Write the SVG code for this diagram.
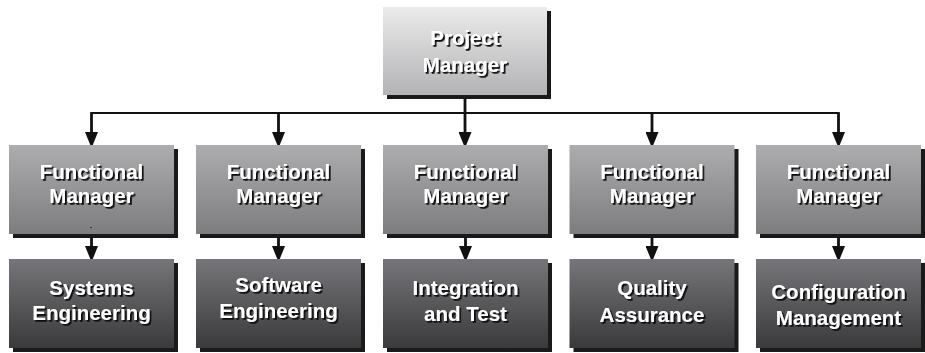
<svg xmlns="http://www.w3.org/2000/svg" width="925" height="353" viewBox="0 0 925 353">
  <defs>
    <linearGradient id="gTop" x1="0" y1="0" x2="0" y2="1">
      <stop offset="0" stop-color="#ebebec"/>
      <stop offset="1" stop-color="#b3b3b5"/>
    </linearGradient>
    <linearGradient id="gMid" x1="0" y1="0" x2="0" y2="1">
      <stop offset="0" stop-color="#adadaf"/>
      <stop offset="1" stop-color="#7d7d7f"/>
    </linearGradient>
    <linearGradient id="gLow" x1="0" y1="0" x2="0" y2="1">
      <stop offset="0" stop-color="#76767a"/>
      <stop offset="1" stop-color="#3a3a3c"/>
    </linearGradient>
    <filter id="txtShadow" x="-10%" y="-20%" width="130%" height="150%">
      <feDropShadow dx="1.8" dy="1.8" stdDeviation="0.5" flood-color="#111111" flood-opacity="1"/>
    </filter>
    <marker id="arrow" viewBox="0 0 16 13" refX="0" refY="6.5" markerWidth="16" markerHeight="13" markerUnits="userSpaceOnUse" orient="auto">
      <path d="M0,0 L16,6.5 L0,13 z" fill="#111111"/>
    </marker>
  </defs>
  <style>
    .shadow { fill: #1a1a1a; }
    .top { fill: url(#gTop); }
    .mid { fill: url(#gMid); }
    .low { fill: url(#gLow); }
    .label { font-family: "Liberation Sans", Arial, sans-serif; font-weight: bold; font-size: 20.5px; fill: #ffffff; text-anchor: middle; filter: url(#txtShadow); }
    .wire { stroke: #111111; fill: none; }
    .bus { stroke-width: 1.8; }
    .drop { stroke-width: 2.8; marker-end: url(#arrow); }
  </style>

  <rect width="925" height="353" fill="#ffffff"/>

  <!-- connectors -->
  <g id="connectors">
    <line class="wire bus" x1="91.5" y1="113" x2="838.5" y2="113"/>
    <line class="wire" x1="465" y1="99" x2="465" y2="113" stroke-width="2.8"/>
    <line class="wire drop" x1="465" y1="113" x2="465" y2="132"/>
    <line class="wire drop" x1="91.5" y1="112.1" x2="91.5" y2="132"/>
    <line class="wire drop" x1="278.5" y1="113" x2="278.5" y2="132"/>
    <line class="wire drop" x1="652" y1="113" x2="652" y2="132"/>
    <line class="wire drop" x1="838.5" y1="112.1" x2="838.5" y2="132"/>
    <line class="wire drop" x1="91.5" y1="238" x2="91.5" y2="246"/>
    <line class="wire drop" x1="278.5" y1="238" x2="278.5" y2="246"/>
    <line class="wire drop" x1="465.5" y1="238" x2="465.5" y2="246"/>
    <line class="wire drop" x1="652" y1="238" x2="652" y2="246"/>
    <line class="wire drop" x1="838.5" y1="238" x2="838.5" y2="246"/>
  </g>

  <!-- top -->
  <g id="project-manager">
    <rect class="shadow" x="387" y="11" width="164" height="88"/>
    <rect class="top" x="383" y="7" width="164" height="88"/>
    <text class="label" x="465" y="45">Project</text>
    <text class="label" x="465" y="72">Manager</text>
  </g>

  <!-- functional managers -->
  <g id="fm-1">
    <rect class="shadow" x="13" y="149" width="165" height="89"/>
    <rect class="mid" x="9" y="145" width="165" height="89"/>
    <text class="label" x="91.5" y="179">Functional</text>
    <text class="label" x="91.5" y="203">Manager</text>
    <rect x="90" y="227" width="2" height="1.2" fill="#3a3a3a"/>
  </g>
  <g id="fm-2">
    <rect class="shadow" x="200" y="149" width="165" height="89"/>
    <rect class="mid" x="196" y="145" width="165" height="89"/>
    <text class="label" x="278.5" y="179">Functional</text>
    <text class="label" x="278.5" y="203">Manager</text>
  </g>
  <g id="fm-3">
    <rect class="shadow" x="387" y="149" width="165" height="89"/>
    <rect class="mid" x="383" y="145" width="165" height="89"/>
    <text class="label" x="465.5" y="179">Functional</text>
    <text class="label" x="465.5" y="203">Manager</text>
  </g>
  <g id="fm-4">
    <rect class="shadow" x="573.5" y="149" width="165" height="89"/>
    <rect class="mid" x="569.5" y="145" width="165" height="89"/>
    <text class="label" x="652" y="179">Functional</text>
    <text class="label" x="652" y="203">Manager</text>
  </g>
  <g id="fm-5">
    <rect class="shadow" x="760" y="149" width="165" height="89"/>
    <rect class="mid" x="756" y="145" width="165" height="89"/>
    <text class="label" x="838.5" y="179">Functional</text>
    <text class="label" x="838.5" y="203">Manager</text>
  </g>

  <!-- disciplines -->
  <g id="systems-engineering">
    <rect class="shadow" x="13" y="263" width="165" height="89"/>
    <rect class="low" x="9" y="259" width="165" height="89"/>
    <text class="label" x="91.5" y="295">Systems</text>
    <text class="label" x="91.5" y="320">Engineering</text>
  </g>
  <g id="software-engineering">
    <rect class="shadow" x="200" y="263" width="165" height="89"/>
    <rect class="low" x="196" y="259" width="165" height="89"/>
    <text class="label" x="278.5" y="292">Software</text>
    <text class="label" x="278.5" y="318">Engineering</text>
  </g>
  <g id="integration-test">
    <rect class="shadow" x="387" y="263" width="165" height="89"/>
    <rect class="low" x="383" y="259" width="165" height="89"/>
    <text class="label" x="465.5" y="295">Integration</text>
    <text class="label" x="465.5" y="321">and Test</text>
  </g>
  <g id="quality-assurance">
    <rect class="shadow" x="573.5" y="263" width="165" height="89"/>
    <rect class="low" x="569.5" y="259" width="165" height="89"/>
    <text class="label" x="652" y="295">Quality</text>
    <text class="label" x="652" y="322">Assurance</text>
  </g>
  <g id="configuration-management">
    <rect class="shadow" x="760" y="263" width="165" height="89"/>
    <rect class="low" x="756" y="259" width="165" height="89"/>
    <text class="label" x="838.5" y="299">Configuration</text>
    <text class="label" x="838.5" y="325">Management</text>
  </g>
</svg>
